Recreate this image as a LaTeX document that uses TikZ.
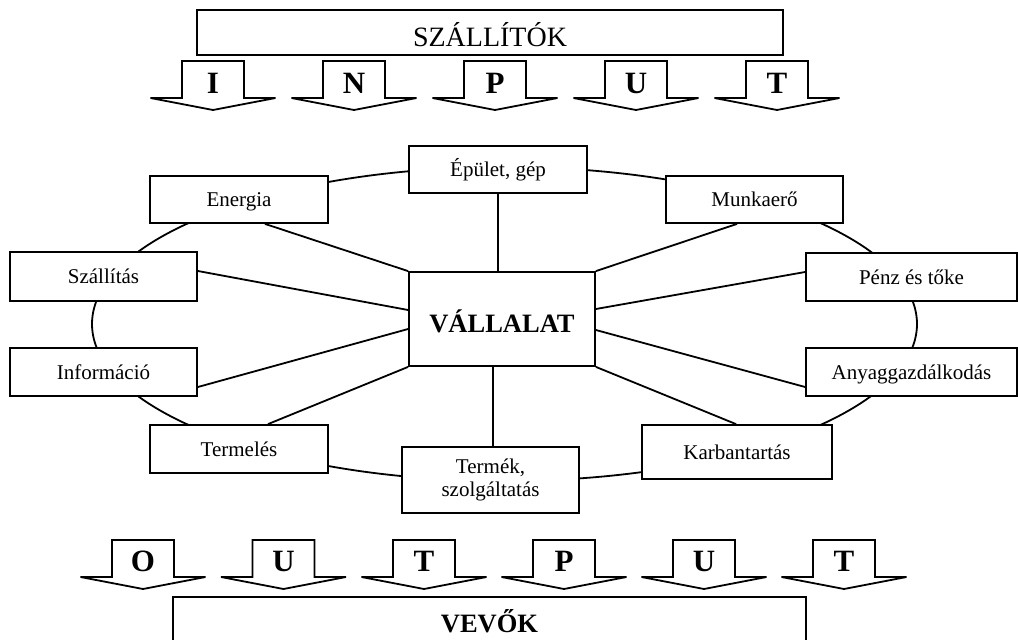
\documentclass[tikz,border=0pt]{standalone}
\usepackage{fontspec}
\setmainfont{Liberation Serif}
\tikzset{
  ln/.style={line width=1.8pt},
  box/.style={draw, fill=white, line width=1.8pt, inner sep=0pt,
    font=\fontsize{21}{23}\selectfont, text height=14pt, text depth=0pt},
  letter/.style={inner sep=0pt, font=\fontsize{31}{33}\selectfont\bfseries,
    text height=20.5pt, text depth=0pt},
  arr/.style={line width=1.8pt, line join=miter}
}
\begin{document}
\begin{tikzpicture}[x=1pt,y=-1pt]
\useasboundingbox (0,0) rectangle (1018,640);
% supplier box
\node[box, minimum width=586pt, minimum height=45pt, font=\fontsize{28}{30}\selectfont,
  text height=28.5pt] (szallitok) at (490,32.5) {SZÁLLÍTÓK};
% input arrows
\foreach \cx/\l/\n in {213/I/i1, 354/N/i2, 495/P/i3, 636/U/i4, 777/T/i5}{
  \draw[arr] (\cx-31,61) -- (\cx+31,61) -- (\cx+31,98) -- (\cx+62.5,98) -- (\cx,110)
    -- (\cx-62.5,98) -- (\cx-31,98) -- cycle;
  \node[letter] (\n) at (\cx,83) {\l};
}
% ellipse
\draw[ln] (504.5,324) ellipse [x radius=412.5, y radius=157];
% nodes
\node[box, minimum width=178pt, minimum height=47pt] (epulet) at (498,169.5) {Épület, gép};
\node[box, minimum width=178pt, minimum height=47pt] (energia) at (239,199.5) {Energia};
\node[box, minimum width=177pt, minimum height=47pt] (munkaero) at (754.5,199.5) {Munkaerő};
\node[box, minimum width=187pt, minimum height=49pt] (szallitas) at (103.5,276.5) {Szállítás};
\node[box, minimum width=211pt, minimum height=48pt] (penz) at (911.5,277) {Pénz és tőke};
\node[box, minimum width=187pt, minimum height=48pt] (informacio) at (103.5,372) {Információ};
\node[box, minimum width=211pt, minimum height=48pt] (anyag) at (911.5,372) {Anyaggazdálkodás};
\node[box, minimum width=178pt, minimum height=48pt] (termeles) at (239,449) {Termelés};
\node[box, minimum width=190pt, minimum height=54pt] (karbantartas) at (737,452) {Karbantartás};
\node[box, minimum width=177pt, minimum height=66pt, align=center, text height=, text depth=]
  (termek) at (490.5,480) {Termék,\\szolgáltatás};
\node[box, minimum width=186pt, minimum height=94pt, font=\fontsize{26.5}{28}\selectfont\bfseries,
  text height=27.8pt] (vallalat) at (502,319) {VÁLLALAT};
% spokes
\draw[ln] (epulet.south) -- (epulet.south |- vallalat.north);
\draw[ln] ([xshift=26pt]energia.south) -- (vallalat.north west);
\draw[ln] ([yshift=5.5pt]szallitas.east) -- ([yshift=9pt]vallalat.west);
\draw[ln] ([yshift=-15pt]informacio.east) -- ([yshift=-10pt]vallalat.west);
\draw[ln] ([xshift=29pt]termeles.north) -- (vallalat.south west);
\draw[ln] ([xshift=-9pt]vallalat.south) -- ([xshift=-9pt]vallalat.south |- termek.north);
\draw[ln] (vallalat.south east) -- ([xshift=-1pt]karbantartas.north);
\draw[ln] ([yshift=-11pt]vallalat.east) -- ([yshift=-15pt]anyag.west);
\draw[ln] ([yshift=10pt]vallalat.east) -- ([yshift=5pt]penz.west);
\draw[ln] (vallalat.north east) -- ([xshift=-17.5pt]munkaero.south);
% output arrows
\foreach \cx/\l/\n in {143/O/o1, 283.5/U/o2, 424/T/o3, 564/P/o4, 704/U/o5, 844/T/o6}{
  \draw[arr] (\cx-31,540) -- (\cx+31,540) -- (\cx+31,577) -- (\cx+62.5,577) -- (\cx,589)
    -- (\cx-62.5,577) -- (\cx-31,577) -- cycle;
  \node[letter] (\n) at (\cx,561.5) {\l};
}
% customers box
\node[box, minimum width=633pt, minimum height=54pt, font=\fontsize{26.5}{28}\selectfont\bfseries,
  text height=17.5pt] (vevok) at (489.5,624) {VEVŐK};
\end{tikzpicture}
\end{document}
